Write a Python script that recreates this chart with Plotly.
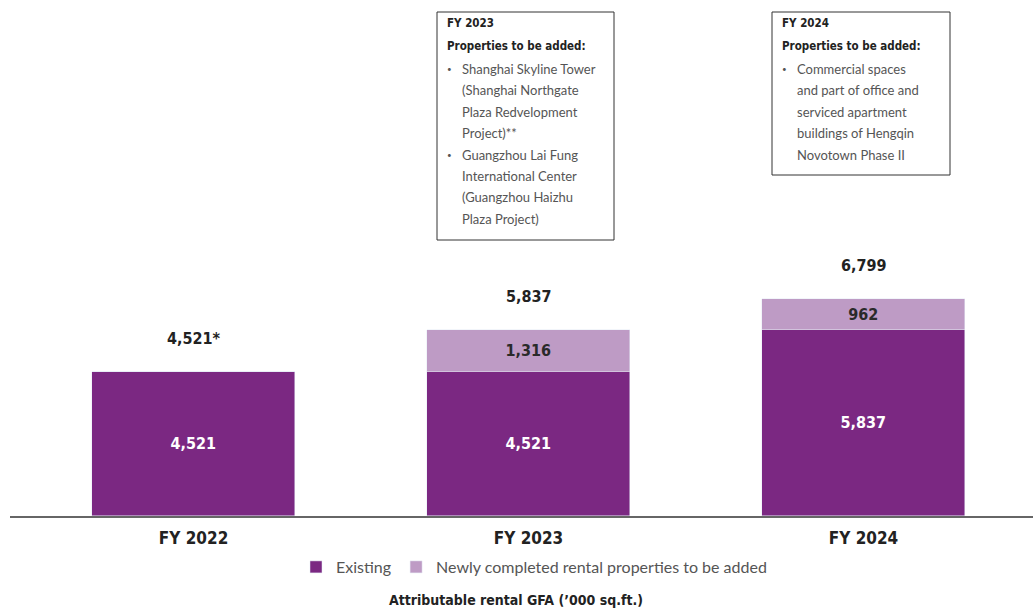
import plotly.graph_objects as go

categories = ["FY 2022", "FY 2023", "FY 2024"]
existing = [4521, 4521, 5837]
new_added = [0, 1316, 962]
total_labels = ["4,521*", "5,837", "6,799"]
legend_names = ["Existing", "Newly completed rental properties to be added"]
axis_title = "Attributable rental GFA (\u2019000 sq.ft.)"

box_titles = ["FY 2023", "FY 2024"]
box_subtitle = "Properties to be added:"
box_items = [
    [["Shanghai Skyline Tower", "(Shanghai Northgate", "Plaza Redvelopment", "Project)**"],
     ["Guangzhou Lai Fung", "International Center", "(Guangzhou Haizhu", "Plaza Project)"]],
    [["Commercial spaces", "and part of office and", "serviced apartment",
      "buildings of Hengqin", "Novotown Phase II"]],
]

C_EXIST = "#7B2882"
C_NEW = "#BE9BC5"
BOLD = "DejaVu Sans Condensed, Liberation Sans Narrow, Arial Narrow, sans-serif"
LIGHT = "Lato, Open Sans, sans-serif"

W, H = 1033, 609
ML, MR, MT, MB = 10, 0, 10, 93
PW, PH = W - ML - MR, H - MT - MB


def px(x):
    return (x - ML) / PW


def py(y):
    return (H - MB - y) / PH


xs = list(range(len(categories)))
fig = go.Figure()
fig.add_bar(x=xs, y=existing, name=legend_names[0], marker_color=C_EXIST, width=0.606,
            text=[f"{v:,}" for v in existing], textposition="inside",
            insidetextanchor="middle",
            textfont=dict(family=BOLD, size=16, color="white", weight="bold"),
            hoverinfo="skip")
fig.add_bar(x=xs, y=new_added, name=legend_names[1], marker_color=C_NEW, width=0.606,
            text=[f"{v:,}" if v else "" for v in new_added], textposition="inside",
            insidetextanchor="middle",
            textfont=dict(family=BOLD, size=16, color="#2a2a2a", weight="bold"),
            hoverinfo="skip")

annotations = []
for i, (e, n) in enumerate(zip(existing, new_added)):
    annotations.append(dict(x=i, y=e + n, xref="x", yref="y", text=total_labels[i],
                            showarrow=False, yanchor="middle", yshift=34,
                            font=dict(family=BOLD, size=16, color="#222222", weight="bold")))

shapes = []
box_rects = [(437, 12, 614, 240), (772, 12, 950, 175)]
for b, (x0, y0, x1, y1) in enumerate(box_rects):
    shapes.append(dict(type="rect", xref="paper", yref="paper",
                       x0=px(x0), x1=px(x1), y0=py(y0), y1=py(y1),
                       line=dict(color="#333333", width=1), fillcolor="white"))
    tx = x0 + 8
    annotations.append(dict(x=px(tx), y=py(23), xref="paper", yref="paper", text=box_titles[b],
                            showarrow=False, xanchor="left", yanchor="middle",
                            font=dict(family=BOLD, size=11.5, color="#222222", weight="bold")))
    annotations.append(dict(x=px(tx), y=py(46), xref="paper", yref="paper", text=box_subtitle,
                            showarrow=False, xanchor="left", yanchor="middle",
                            font=dict(family=BOLD, size=11.5, color="#222222", weight="bold")))
    line_y = 69.0
    for item in box_items[b]:
        annotations.append(dict(x=px(x0 + 8), y=py(line_y), xref="paper", yref="paper",
                                text="\u2022", showarrow=False, xanchor="left", yanchor="middle",
                                font=dict(family=LIGHT, size=8, color="#555555")))
        for ln in item:
            annotations.append(dict(x=px(x0 + 23), y=py(line_y), xref="paper", yref="paper",
                                    text=ln, showarrow=False, xanchor="left", yanchor="middle",
                                    font=dict(family=LIGHT, size=13, color="#555555")))
            line_y += 21.4

annotations.append(dict(x=px(516), y=py(600), xref="paper", yref="paper", text=axis_title,
                        showarrow=False, xanchor="center", yanchor="middle",
                        font=dict(family=BOLD, size=14, color="#222222", weight="bold")))

fig.update_layout(
    width=W, height=H, barmode="stack", bargap=0,
    margin=dict(l=ML, r=MR, t=MT, b=MB),
    plot_bgcolor="white", paper_bgcolor="white",
    showlegend=True,
    legend=dict(orientation="h", x=px(534), xanchor="center", y=py(567), yanchor="middle",
                font=dict(family=LIGHT, size=16, color="#555555"), itemwidth=30,
                traceorder="normal", bgcolor="rgba(0,0,0,0)"),
    xaxis=dict(range=[-0.548, 2.506], tickvals=xs, ticktext=categories, showline=True,
               linecolor="#666666", linewidth=2, showgrid=False, zeroline=False, ticks="",
               tickfont=dict(family=BOLD, size=17, color="#222222", weight="bold"),
               ticklabelstandoff=6, fixedrange=True),
    yaxis=dict(range=[0, PH / 0.03185], visible=False, showgrid=False, fixedrange=True),
    annotations=annotations, shapes=shapes,
    uniformtext=dict(mode=False),
)
fig.write_html("out.html")
